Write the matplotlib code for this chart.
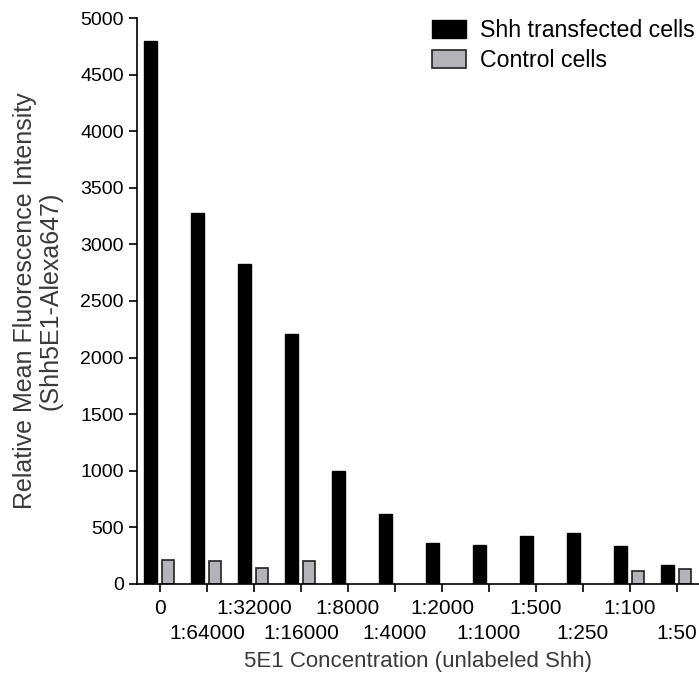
import numpy as np
import matplotlib.pyplot as plt

plt.rcParams['font.family'] = ['Liberation Sans', 'DejaVu Sans']

# 数据
concentrations = ['0', '1:64000', '1:32000', '1:16000', '1:8000', '1:4000',
                  '1:2000', '1:1000', '1:500', '1:250', '1:100', '1:50']
shh_cells = [4800, 3275, 2830, 2210, 1000, 620, 360, 342, 421, 448, 333, 168]
control_cells = [209, 200, 144, 200, 0, 0, 0, 0, 0, 0, 118, 133]

x = np.arange(len(concentrations))
ctrl = np.array(control_cells)
has_ctrl = ctrl > 0  # 值为0的不画

fig = plt.figure(figsize=(6.99, 6.77), dpi=100)
ax = fig.add_axes([0.196, 0.1374, 0.804, 0.836])

# 柱状图
ax.bar(x - 0.2, shh_cells, width=0.28, color='black', edgecolor='black',
       linewidth=1, label='Shh transfected cells')
ax.bar(x[has_ctrl] + 0.17, ctrl[has_ctrl], width=0.26, color='#b4b4b8',
       edgecolor='#222222', linewidth=1.2, label='Control cells')

ax.set_xlim(-0.49, 11.47)
ax.set_ylim(0, 5000)
ax.set_yticks(range(0, 5001, 500))

# 刻度标签交错两行：偶数用主刻度，奇数用次刻度
ax.set_xticks(x[::2])
ax.set_xticklabels(concentrations[::2])
ax.set_xticks(x[1::2], minor=True)
ax.set_xticklabels(concentrations[1::2], minor=True)
ax.tick_params(axis='both', which='both', length=6, width=1.2, direction='out')
ax.tick_params(axis='y', labelsize=14)
ax.tick_params(axis='x', which='major', labelsize=15, pad=5)
ax.tick_params(axis='x', which='minor', labelsize=15, pad=22.5)

for s in ['top', 'right']:
    ax.spines[s].set_visible(False)
ax.spines['left'].set_linewidth(1.2)
ax.spines['bottom'].set_linewidth(1.2)

ax.set_xlabel('5E1 Concentration (unlabeled Shh)', fontsize=16, color='#3a3a3a', labelpad=6)
ax.set_ylabel('Relative Mean Fluorescence Intensity\n(Shh5E1-Alexa647)', fontsize=18,
              color='#3a3a3a', labelpad=13, linespacing=1.05)

ax.legend(loc='upper right', bbox_to_anchor=(1.03, 1.035), frameon=False, fontsize=16.7,
          handlelength=1.5, handleheight=0.85, handletextpad=0.6, labelspacing=0.3)

fig.savefig('out.png', dpi=100)
